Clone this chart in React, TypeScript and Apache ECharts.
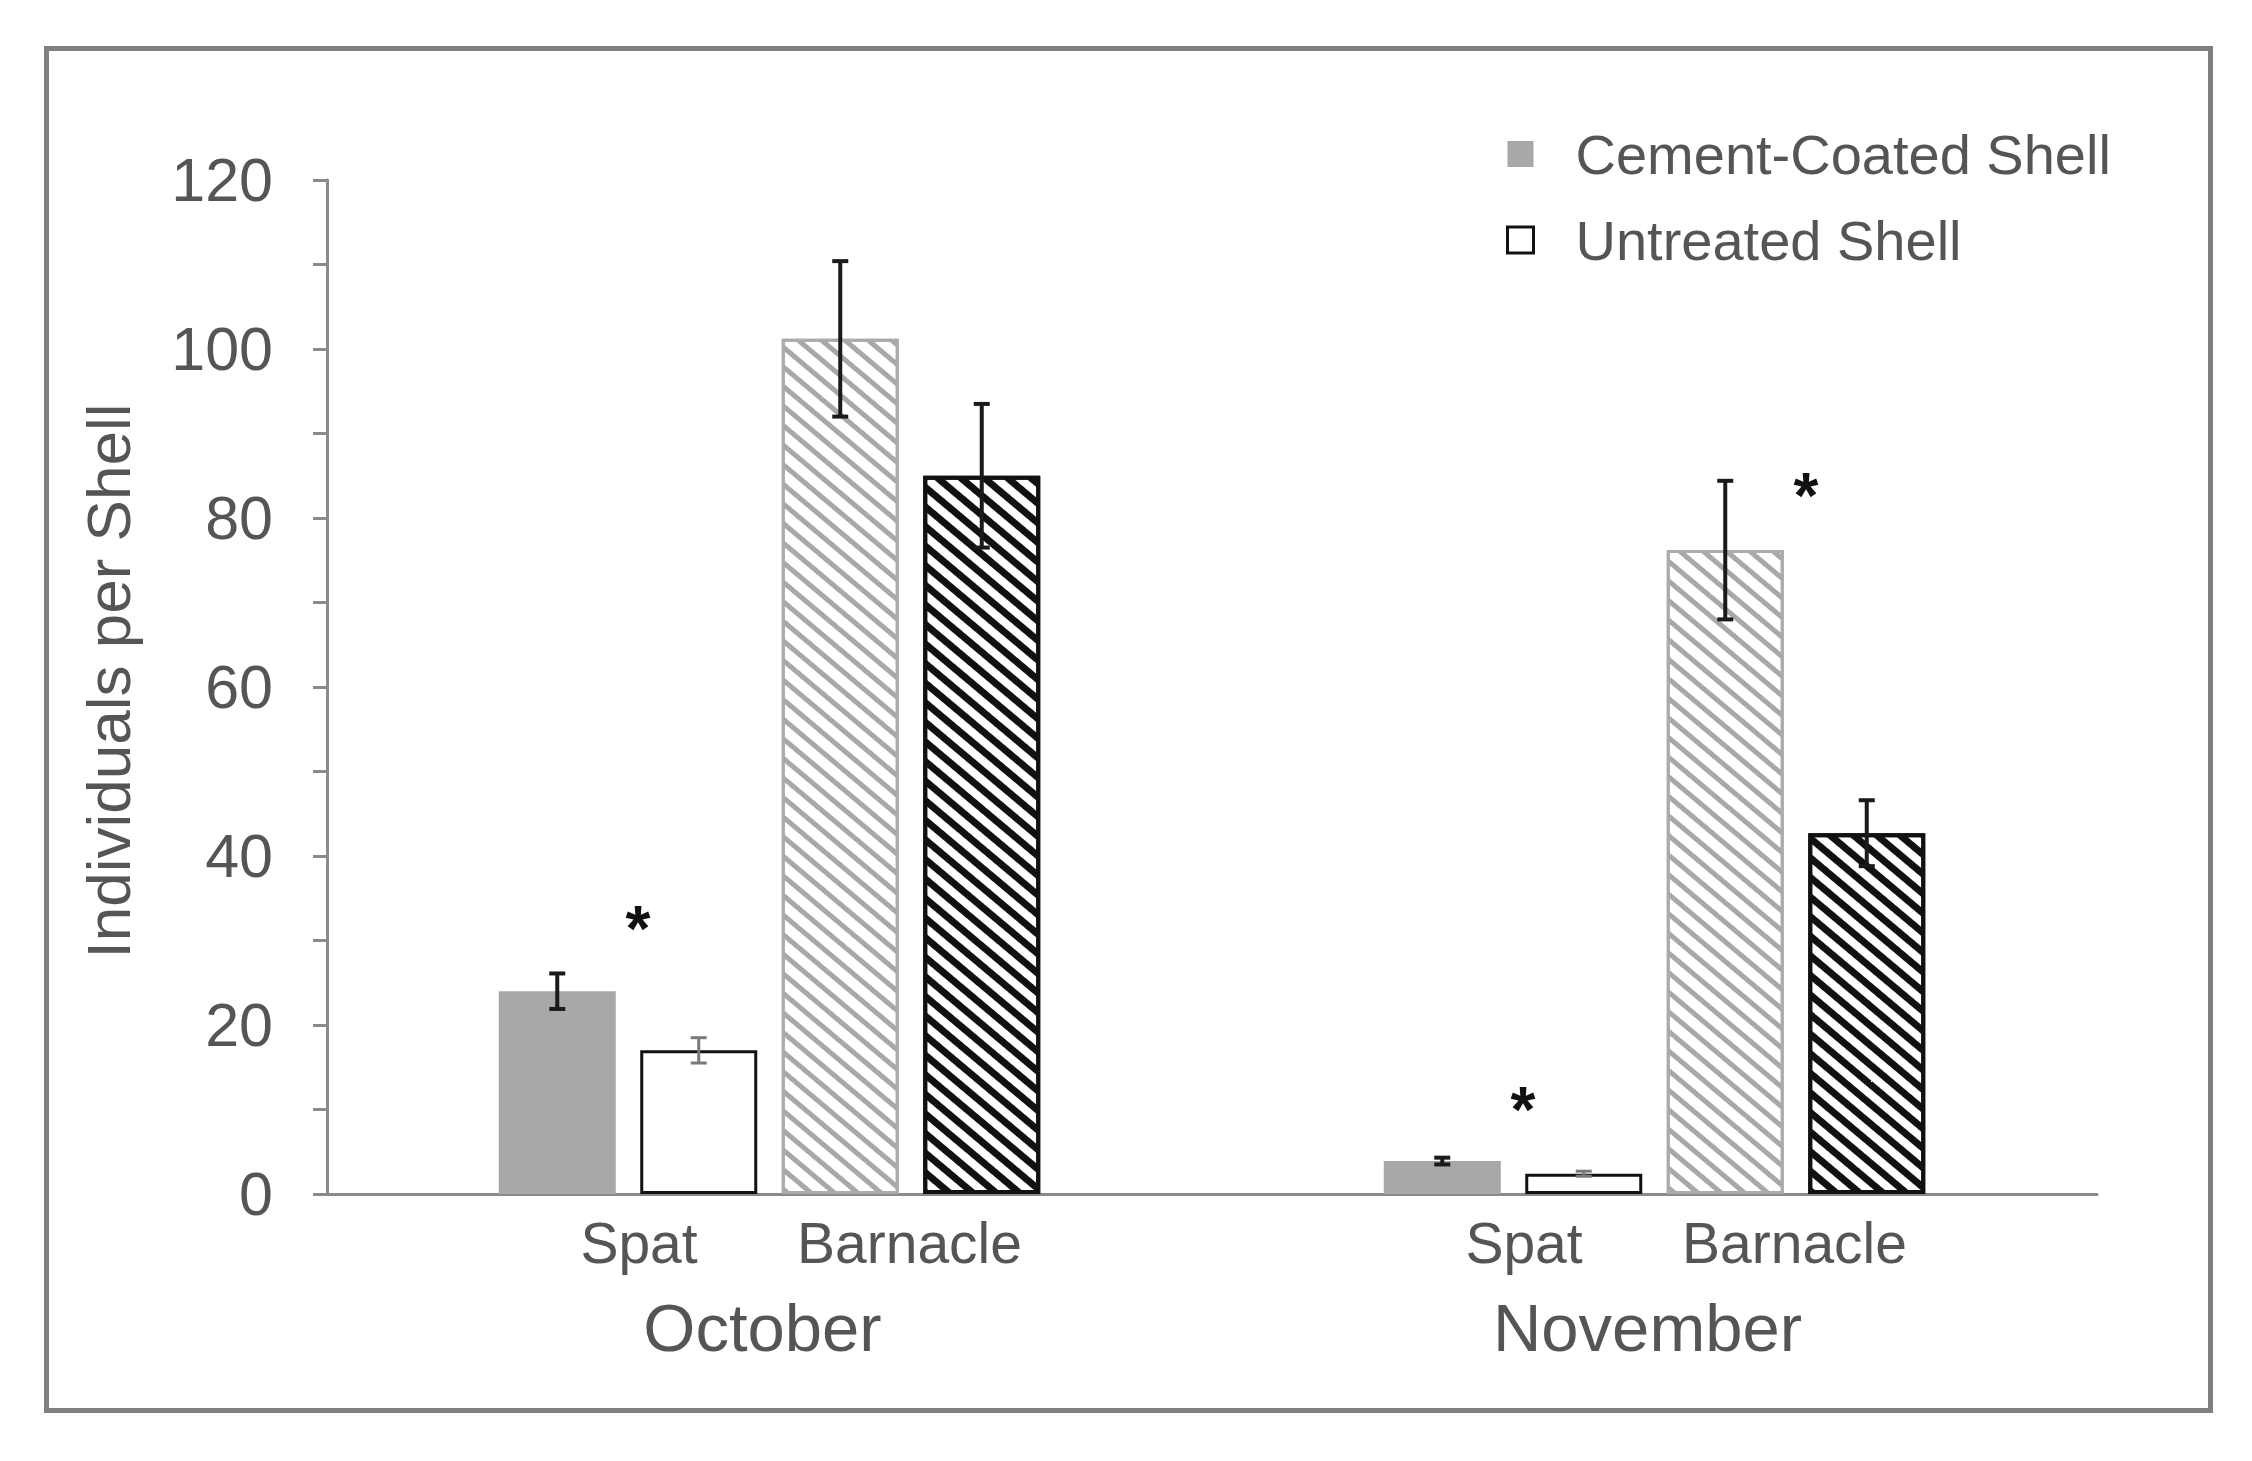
import React, { useEffect, useRef } from "react";
import * as echarts from "echarts";

// ---- data ----
const months = ["October", "November"];
const groupLabels = ["Spat", "Barnacle"];
const legendNames = ["Cement-Coated Shell", "Untreated Shell"];
const cementSpat = [24.0, 3.9];
const untreatedSpat = [17.0, 2.4];
const cementBarnacle = [101.2, 76.2];
const untreatedBarnacle = [85.0, 42.7];
const cementSpatErr = [2.1, 0.4];
const untreatedSpatErr = [1.5, 0.3];
const cementBarnacleErr = [9.2, 8.2];
const untreatedBarnacleErr = [8.5, 3.9];
// significance markers: month index, group (0 = Spat, 1 = Barnacle), y position
const sigMonth = [0, 1, 1];
const sigGroup = [0, 0, 1];
const sigY = [32.6, 11.1, 83.8];
const yMin = 0;
const yMax = 120;
const yStep = 10;

// ---- layout / style ----
const FONT = "'Liberation Sans', Arial, Helvetica, sans-serif";
const TEXT = "#555555";
const AXIS = "#8a8a8a";
const BAR_W = 117;
const GAP_PX = 24.5;
const PITCH = BAR_W + GAP_PX;
const HATCH_ROT = (40 * Math.PI) / 180;

export default function App() {
  const ref = useRef<HTMLDivElement>(null);

  useEffect(() => {
    if (!ref.current) return;
    const chart = echarts.init(ref.current, undefined, { renderer: "svg" });

    const values = [cementSpat, untreatedSpat, cementBarnacle, untreatedBarnacle];
    const errs = [cementSpatErr, untreatedSpatErr, cementBarnacleErr, untreatedBarnacleErr];

    const errData: number[][] = [];
    values.forEach((arr, k) =>
      arr.forEach((v, m) => errData.push([m, v, errs[k][m], k]))
    );
    const sigData = sigY.map((y, i) => [sigMonth[i], y, sigGroup[i]]);

    const gapPct = ((GAP_PX / BAR_W) * 100).toFixed(2) + "%";

    const barBase = {
      type: "bar",
      barWidth: BAR_W,
      barGap: gapPct,
      xAxisIndex: 0,
      yAxisIndex: 0,
    };

    const option: any = {
      animation: false,
      backgroundColor: "#ffffff",
      textStyle: { fontFamily: FONT },
      graphic: [
        {
          type: "rect",
          shape: { x: 46.5, y: 48.5, width: 2164, height: 1362 },
          style: { fill: "none", stroke: "#808080", lineWidth: 5 },
          silent: true,
        },
      ],
      legend: {
        orient: "vertical",
        left: 1501,
        top: 121,
        itemWidth: 26,
        itemHeight: 26,
        itemGap: 30,
        selectedMode: false,
        textStyle: {
          fontSize: 56,
          color: TEXT,
          fontFamily: FONT,
          padding: [0, 0, 0, 37],
        },
        data: [
          { name: legendNames[0], icon: "rect", itemStyle: { color: "#a9a7a7", borderWidth: 0 } },
          {
            name: legendNames[1],
            icon: "rect",
            itemStyle: { color: "#ffffff", borderColor: "#111111", borderWidth: 3 },
          },
        ],
      },
      grid: { left: 327, right: 155, top: 180, bottom: 267, containLabel: false },
      xAxis: [
        {
          type: "category",
          data: months,
          position: "bottom",
          axisLine: { show: true, lineStyle: { color: AXIS, width: 3 } },
          axisTick: { show: false },
          axisLabel: {
            interval: 0,
            margin: 20,
            formatter: () => `{a|${groupLabels[0]}}{b|${groupLabels[1]}}`,
            rich: {
              a: { width: 280, align: "center", fontSize: 57, color: TEXT, fontFamily: FONT },
              b: { width: 261, align: "center", fontSize: 57, color: TEXT, fontFamily: FONT },
            },
          },
        },
        {
          type: "category",
          data: months,
          position: "bottom",
          axisLine: { show: false },
          axisTick: { show: false },
          axisLabel: {
            interval: 0,
            margin: 100,
            fontSize: 67,
            color: TEXT,
            fontFamily: FONT,
            padding: [0, 14, 0, 0],
          },
        },
      ],
      yAxis: {
        type: "value",
        min: yMin,
        max: yMax,
        interval: yStep,
        name: "Individuals per Shell",
        nameLocation: "middle",
        nameGap: 188,
        nameTextStyle: { fontSize: 62, color: TEXT, fontFamily: FONT, padding: [0, 0, 0, 12] },
        axisLine: { show: true, lineStyle: { color: AXIS, width: 3 } },
        axisTick: { show: true, inside: false, length: 14, lineStyle: { color: AXIS, width: 3 } },
        splitLine: { show: false },
        axisLabel: {
          margin: 54,
          fontSize: 61,
          color: TEXT,
          fontFamily: FONT,
          formatter: (v: number) => (v % 20 === 0 ? String(v) : ""),
        },
      },
      series: [
        {
          ...barBase,
          name: legendNames[0],
          data: cementSpat,
          itemStyle: { color: "#a9a7a7" },
        },
        {
          ...barBase,
          name: legendNames[1],
          data: untreatedSpat,
          itemStyle: { color: "#ffffff", borderColor: "#111111", borderWidth: 3 },
        },
        {
          ...barBase,
          name: legendNames[0] + " (Barnacle)",
          data: cementBarnacle,
          itemStyle: {
            color: "#ffffff",
            borderColor: "#ababab",
            borderWidth: 3,
            decal: {
              symbol: "rect",
              symbolSize: 1,
              dashArrayX: [1, 0],
              dashArrayY: [5, 10],
              rotation: HATCH_ROT,
              color: "#a8a8a8",
            },
          },
        },
        {
          ...barBase,
          name: legendNames[1] + " (Barnacle)",
          data: untreatedBarnacle,
          itemStyle: {
            color: "#ffffff",
            borderColor: "#111111",
            borderWidth: 4,
            decal: {
              symbol: "rect",
              symbolSize: 1,
              dashArrayX: [1, 0],
              dashArrayY: [7, 8],
              rotation: HATCH_ROT,
              color: "#111111",
            },
          },
        },
        {
          type: "custom",
          name: "errors",
          xAxisIndex: 0,
          yAxisIndex: 0,
          z: 5,
          silent: true,
          data: errData,
          renderItem: (_params: any, api: any) => {
            const cat = api.value(0);
            const mean = api.value(1);
            const err = api.value(2);
            const k = api.value(3);
            const center = api.coord([cat, mean]);
            const x = center[0] + (k - 1.5) * PITCH;
            const top = api.coord([cat, mean + err])[1];
            const bot = api.coord([cat, mean - err])[1];
            const gray = k === 1;
            const color = gray ? "#7a7a7a" : "#1a1a1a";
            const lw = gray ? 3 : 4;
            const cap = 8;
            return {
              type: "group",
              children: [
                { type: "line", shape: { x1: x, y1: top, x2: x, y2: bot }, style: { stroke: color, lineWidth: lw } },
                { type: "line", shape: { x1: x - cap, y1: top, x2: x + cap, y2: top }, style: { stroke: color, lineWidth: lw } },
                { type: "line", shape: { x1: x - cap, y1: bot, x2: x + cap, y2: bot }, style: { stroke: color, lineWidth: lw } },
              ],
            };
          },
        },
        {
          type: "custom",
          name: "significance",
          xAxisIndex: 0,
          yAxisIndex: 0,
          z: 6,
          silent: true,
          data: sigData,
          renderItem: (_params: any, api: any) => {
            const cat = api.value(0);
            const y = api.value(1);
            const grp = api.value(2);
            const c = api.coord([cat, y]);
            // midpoint of the two bars of this group
            const x = c[0] + (grp * 2 - 1) * PITCH + 10;
            return {
              type: "text",
              style: {
                x,
                y: c[1] + 10,
                text: "*",
                fontSize: 64,
                fontWeight: "bold",
                fontFamily: FONT,
                fill: "#111111",
                textAlign: "center",
                textVerticalAlign: "middle",
              },
            };
          },
        },
      ],
    };

    chart.setOption(option);
    return () => chart.dispose();
  }, []);

  return (
    <div
      ref={ref}
      style={{ position: "absolute", left: 0, top: 0, width: 2252, height: 1461 }}
    />
  );
}
